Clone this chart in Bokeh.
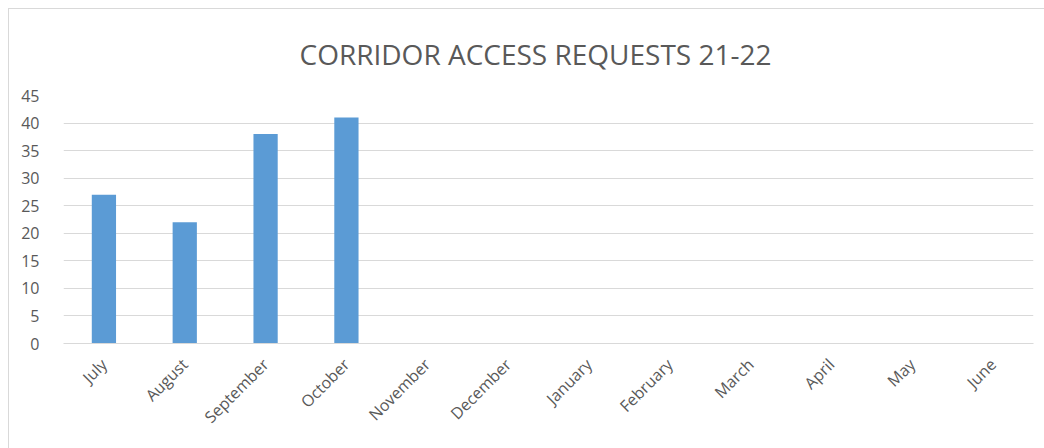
from bokeh.plotting import figure
from bokeh.models import ColumnDataSource, FixedTicker, Range1d
from bokeh.embed import file_html
from bokeh.resources import INLINE
import math

months = ["July", "August", "September", "October", "November", "December",
          "January", "February", "March", "April", "May", "June"]
month_values = [27, 22, 38, 41, 0, 0, 0, 0, 0, 0, 0, 0]
y_ticks = [0, 5, 10, 15, 20, 25, 30, 35, 40, 45]
title_text = "CORRIDOR ACCESS REQUESTS 21-22"

src = ColumnDataSource(data=dict(month=months, value=month_values))

p = figure(x_range=months, y_range=Range1d(0, 45), width=1036, height=440,
           output_backend="svg", toolbar_location=None,
           min_border_left=54, min_border_right=12, min_border_top=84, min_border_bottom=106,
           margin=(8, 0, 0, 8))
p.styles = {"border-left": "1px solid #d9d9d9", "border-top": "1px solid #d9d9d9"}

p.title.text = title_text
p.title.align = "left"
p.title.offset = 236
p.title.text_font = "Open Sans"
p.title.text_font_size = "28px"
p.title.text_font_style = "normal"
p.title.text_color = "#595959"
p.title.standoff = 46

p.vbar(x="month", top="value", width=0.3, source=src, color="#5B9BD5", line_color=None)

p.outline_line_color = None
p.background_fill_color = "white"
p.border_fill_color = "white"

p.yaxis.ticker = FixedTicker(ticks=y_ticks)
p.yaxis.axis_line_color = None
p.yaxis.major_tick_line_color = None
p.yaxis.minor_tick_line_color = None
p.yaxis.major_label_text_color = "#595959"
p.yaxis.major_label_text_font = "Open Sans"
p.yaxis.major_label_text_font_size = "16px"
p.yaxis.major_label_standoff = 18

p.xaxis.axis_line_color = "#d9d9d9"
p.xaxis.major_tick_line_color = None
p.xaxis.minor_tick_line_color = None
p.xaxis.major_label_orientation = math.pi / 4
p.xaxis.major_label_text_color = "#595959"
p.xaxis.major_label_text_font = "Open Sans"
p.xaxis.major_label_text_font_size = "16px"
p.xaxis.major_label_standoff = 12

p.xgrid.grid_line_color = None
p.ygrid.grid_line_color = "#d9d9d9"
p.ygrid.grid_line_width = 1

open("out.html", "w").write(file_html(p, INLINE))
